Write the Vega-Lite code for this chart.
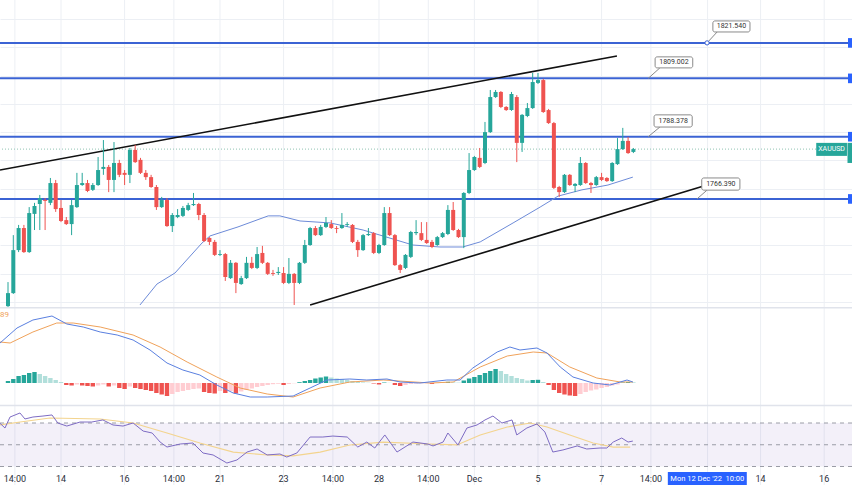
{
"$schema": "https://vega.github.io/schema/vega-lite/v6.json",
"width": 852, "height": 485,
"autosize": {"type": "none"},
"padding": 0,
"background": "white",
"config": {"view": {"stroke": null}, "font": "Roboto", "scale": {"continuousPadding": 0}, "axis": {"minExtent": 0, "gridColor": "#eceff4", "gridWidth": 1}},
"datasets": {
"candles": [
{"i":0,"o":1728.5,"c":1733.1,"h":1737.0,"l":1728.2},
{"i":1,"o":1733.1,"c":1748.3,"h":1753.6,"l":1732.8},
{"i":2,"o":1748.3,"c":1756.1,"h":1757.2,"l":1747.6},
{"i":3,"o":1756.1,"c":1747.6,"h":1757.2,"l":1747.3},
{"i":4,"o":1747.6,"c":1761.4,"h":1763.5,"l":1747.3},
{"i":5,"o":1761.1,"c":1763.9,"h":1765.0,"l":1755.4},
{"i":6,"o":1764.6,"c":1766.7,"h":1767.8,"l":1755.4},
{"i":7,"o":1766.0,"c":1765.7,"h":1766.7,"l":1755.4},
{"i":8,"o":1765.0,"c":1772.0,"h":1773.8,"l":1764.2},
{"i":9,"o":1772.0,"c":1762.8,"h":1773.1,"l":1761.8},
{"i":10,"o":1763.2,"c":1758.6,"h":1766.0,"l":1758.2},
{"i":11,"o":1758.9,"c":1757.5,"h":1760.0,"l":1757.2},
{"i":12,"o":1757.5,"c":1764.2,"h":1766.0,"l":1753.6},
{"i":13,"o":1763.5,"c":1771.3,"h":1775.6,"l":1763.2},
{"i":14,"o":1771.3,"c":1772.0,"h":1775.6,"l":1771.0},
{"i":15,"o":1772.0,"c":1769.2,"h":1773.1,"l":1768.8},
{"i":16,"o":1769.6,"c":1771.3,"h":1772.0,"l":1769.2},
{"i":17,"o":1771.3,"c":1776.6,"h":1781.2,"l":1771.0},
{"i":18,"o":1777.0,"c":1777.7,"h":1787.2,"l":1774.9},
{"i":19,"o":1777.7,"c":1773.1,"h":1778.4,"l":1768.8},
{"i":20,"o":1773.1,"c":1779.1,"h":1786.5,"l":1768.8},
{"i":21,"o":1779.1,"c":1774.9,"h":1780.2,"l":1774.1},
{"i":22,"o":1775.6,"c":1774.9,"h":1776.6,"l":1771.3},
{"i":23,"o":1774.9,"c":1783.7,"h":1784.4,"l":1772.0},
{"i":24,"o":1783.7,"c":1779.4,"h":1785.5,"l":1779.1},
{"i":25,"o":1780.2,"c":1775.6,"h":1780.9,"l":1775.2},
{"i":26,"o":1775.6,"c":1774.1,"h":1776.6,"l":1773.1},
{"i":27,"o":1774.1,"c":1770.6,"h":1774.9,"l":1770.3},
{"i":28,"o":1770.6,"c":1763.5,"h":1771.3,"l":1762.5},
{"i":29,"o":1763.5,"c":1766.0,"h":1767.1,"l":1763.2},
{"i":30,"o":1766.0,"c":1756.8,"h":1766.7,"l":1756.5},
{"i":31,"o":1756.8,"c":1760.7,"h":1761.4,"l":1754.7},
{"i":32,"o":1760.0,"c":1760.7,"h":1762.8,"l":1759.6},
{"i":33,"o":1760.4,"c":1763.2,"h":1763.9,"l":1760.0},
{"i":34,"o":1762.5,"c":1764.2,"h":1765.0,"l":1762.1},
{"i":35,"o":1764.2,"c":1764.6,"h":1768.5,"l":1763.9},
{"i":36,"o":1764.6,"c":1760.7,"h":1765.0,"l":1758.9},
{"i":37,"o":1760.7,"c":1751.5,"h":1761.4,"l":1751.2},
{"i":38,"o":1752.6,"c":1751.2,"h":1752.9,"l":1750.1},
{"i":39,"o":1751.2,"c":1746.6,"h":1751.9,"l":1746.2},
{"i":40,"o":1746.6,"c":1746.9,"h":1748.3,"l":1746.2},
{"i":41,"o":1746.9,"c":1738.8,"h":1747.3,"l":1737.4},
{"i":42,"o":1738.4,"c":1743.8,"h":1744.8,"l":1738.1},
{"i":43,"o":1743.8,"c":1736.7,"h":1744.1,"l":1733.1},
{"i":44,"o":1736.3,"c":1738.4,"h":1739.2,"l":1736.0},
{"i":45,"o":1738.4,"c":1743.8,"h":1745.9,"l":1738.1},
{"i":46,"o":1743.8,"c":1742.0,"h":1745.9,"l":1741.6},
{"i":47,"o":1742.0,"c":1746.9,"h":1749.4,"l":1741.6},
{"i":48,"o":1747.3,"c":1743.8,"h":1749.8,"l":1743.4},
{"i":49,"o":1743.8,"c":1739.9,"h":1744.1,"l":1739.5},
{"i":50,"o":1740.2,"c":1739.9,"h":1741.3,"l":1739.2},
{"i":51,"o":1740.2,"c":1740.6,"h":1742.3,"l":1739.5},
{"i":52,"o":1740.2,"c":1736.7,"h":1742.3,"l":1736.3},
{"i":53,"o":1736.7,"c":1739.9,"h":1745.5,"l":1736.3},
{"i":54,"o":1739.9,"c":1736.7,"h":1740.2,"l":1728.9},
{"i":55,"o":1736.7,"c":1743.8,"h":1744.1,"l":1736.3},
{"i":56,"o":1743.8,"c":1750.1,"h":1751.9,"l":1743.4},
{"i":57,"o":1750.1,"c":1756.1,"h":1756.5,"l":1749.8},
{"i":58,"o":1756.1,"c":1753.6,"h":1756.8,"l":1753.3},
{"i":59,"o":1753.6,"c":1756.5,"h":1757.2,"l":1753.3},
{"i":60,"o":1756.5,"c":1757.9,"h":1760.0,"l":1756.1},
{"i":61,"o":1757.5,"c":1756.1,"h":1758.9,"l":1755.8},
{"i":62,"o":1756.1,"c":1755.8,"h":1756.8,"l":1754.3},
{"i":63,"o":1756.1,"c":1757.2,"h":1761.4,"l":1755.8},
{"i":64,"o":1757.2,"c":1757.5,"h":1758.2,"l":1756.5},
{"i":65,"o":1757.2,"c":1751.2,"h":1757.5,"l":1750.8},
{"i":66,"o":1751.2,"c":1748.3,"h":1751.9,"l":1745.9},
{"i":67,"o":1748.3,"c":1753.6,"h":1754.0,"l":1748.0},
{"i":68,"o":1753.6,"c":1754.0,"h":1756.1,"l":1753.3},
{"i":69,"o":1754.3,"c":1747.3,"h":1754.7,"l":1746.9},
{"i":70,"o":1747.3,"c":1750.1,"h":1750.5,"l":1746.9},
{"i":71,"o":1750.1,"c":1761.4,"h":1763.5,"l":1749.8},
{"i":72,"o":1761.4,"c":1753.6,"h":1763.5,"l":1753.3},
{"i":73,"o":1753.6,"c":1743.0,"h":1754.0,"l":1742.7},
{"i":74,"o":1743.0,"c":1741.3,"h":1743.4,"l":1740.2},
{"i":75,"o":1742.0,"c":1746.6,"h":1746.9,"l":1741.6},
{"i":76,"o":1745.9,"c":1754.7,"h":1755.1,"l":1745.5},
{"i":77,"o":1754.3,"c":1754.7,"h":1758.9,"l":1753.6},
{"i":78,"o":1754.3,"c":1751.9,"h":1758.2,"l":1751.5},
{"i":79,"o":1751.9,"c":1750.8,"h":1758.2,"l":1750.5},
{"i":80,"o":1751.2,"c":1749.4,"h":1751.9,"l":1749.0},
{"i":81,"o":1750.1,"c":1752.9,"h":1753.3,"l":1749.8},
{"i":82,"o":1752.9,"c":1754.3,"h":1754.7,"l":1752.6},
{"i":83,"o":1754.0,"c":1762.5,"h":1764.2,"l":1753.6},
{"i":84,"o":1762.5,"c":1755.4,"h":1765.3,"l":1755.1},
{"i":85,"o":1755.4,"c":1752.9,"h":1755.8,"l":1752.6},
{"i":86,"o":1752.9,"c":1768.5,"h":1768.8,"l":1749.0},
{"i":87,"o":1768.5,"c":1776.6,"h":1782.6,"l":1768.1},
{"i":88,"o":1776.6,"c":1781.2,"h":1781.6,"l":1776.3},
{"i":89,"o":1780.9,"c":1777.7,"h":1784.4,"l":1777.3},
{"i":90,"o":1779.1,"c":1790.0,"h":1793.6,"l":1778.7},
{"i":91,"o":1790.0,"c":1802.4,"h":1804.9,"l":1789.7},
{"i":92,"o":1802.4,"c":1804.2,"h":1804.9,"l":1802.1},
{"i":93,"o":1804.2,"c":1798.9,"h":1804.5,"l":1798.5},
{"i":94,"o":1798.9,"c":1797.8,"h":1799.2,"l":1797.5},
{"i":95,"o":1797.8,"c":1803.5,"h":1804.2,"l":1797.5},
{"i":96,"o":1802.4,"c":1786.2,"h":1803.1,"l":1779.4},
{"i":97,"o":1786.2,"c":1796.1,"h":1796.4,"l":1783.0},
{"i":98,"o":1795.7,"c":1798.5,"h":1800.3,"l":1795.3},
{"i":99,"o":1798.5,"c":1807.7,"h":1810.9,"l":1798.2},
{"i":100,"o":1807.4,"c":1808.4,"h":1810.9,"l":1807.0},
{"i":101,"o":1808.4,"c":1797.1,"h":1808.8,"l":1796.8},
{"i":102,"o":1797.8,"c":1793.2,"h":1798.2,"l":1792.9},
{"i":103,"o":1793.2,"c":1770.3,"h":1793.6,"l":1769.9},
{"i":104,"o":1770.6,"c":1768.8,"h":1771.0,"l":1767.1},
{"i":105,"o":1768.8,"c":1774.9,"h":1775.2,"l":1768.5},
{"i":106,"o":1774.9,"c":1771.3,"h":1775.2,"l":1771.0},
{"i":107,"o":1771.0,"c":1771.7,"h":1772.0,"l":1768.8},
{"i":108,"o":1771.3,"c":1779.1,"h":1781.2,"l":1771.0},
{"i":109,"o":1779.1,"c":1772.0,"h":1779.4,"l":1771.7},
{"i":110,"o":1772.0,"c":1771.3,"h":1772.4,"l":1768.5},
{"i":111,"o":1771.3,"c":1774.1,"h":1774.5,"l":1771.0},
{"i":112,"o":1774.1,"c":1773.1,"h":1775.6,"l":1772.7},
{"i":113,"o":1773.8,"c":1772.7,"h":1774.1,"l":1772.4},
{"i":114,"o":1772.7,"c":1779.1,"h":1779.4,"l":1772.4},
{"i":115,"o":1778.7,"c":1784.0,"h":1787.9,"l":1778.4},
{"i":116,"o":1784.0,"c":1786.9,"h":1791.5,"l":1783.7},
{"i":117,"o":1786.9,"c":1782.6,"h":1788.3,"l":1782.3},
{"i":118,"o":1783.0,"c":1784.0,"h":1784.4,"l":1782.6}
],
"ma": [
{"i":24.9,"p":1728.9},{"i":28.1,"p":1736.3},{"i":31.5,"p":1740.2},{"i":36.6,"p":1750.8},{"i":38.1,"p":1753.3},{"i":43.4,"p":1756.5},{"i":49.1,"p":1760.4},{"i":51.3,"p":1760.4},{"i":55.1,"p":1758.6},{"i":60.8,"p":1757.9},{"i":67.0,"p":1755.4},{"i":76.4,"p":1750.1},{"i":81.5,"p":1749.4},{"i":85.8,"p":1749.4},{"i":89.1,"p":1751.2},{"i":95.3,"p":1757.9},{"i":100.4,"p":1763.5},{"i":103.8,"p":1767.4},{"i":108.3,"p":1769.6},{"i":113.2,"p":1771.3},{"i":117.9,"p":1774.1}
],
"levels": [{"p":1821.54,"label":"1821.540","bx":133.0,"bx2":140.0,"by":1825.4,"by2":1829.3,"tx":136.5,"ty":1827.35,"px":133.8,"py":1825.4,"qx":131.9},
{"p":1809.002,"label":"1809.002","bx":122.1,"bx2":129.2,"by":1812.7,"by2":1816.6,"tx":125.65,"ty":1814.65,"px":123.0,"py":1812.7,"qx":120.8},
{"p":1788.378,"label":"1788.378","bx":121.9,"bx2":129.1,"by":1791.8,"by2":1796.1,"tx":125.5,"ty":1793.95,"px":123.0,"py":1791.8,"qx":120.8},
{"p":1766.39,"label":"1766.390","bx":130.9,"bx2":138.1,"by":1769.5,"by2":1773.8,"tx":134.5,"ty":1771.65,"px":131.9,"py":1769.5,"qx":130.0}],
"trend": [{"i":-1.51,"p":1776.6,"i2":114.9,"p2":1816.9},{"i":57.0,"p":1728.9,"i2":131.9,"p2":1771.3}],
"ticks": [
{"i":1.3,"t":"14:00"},{"i":10,"t":"14"},{"i":22,"t":"16"},{"i":31.3,"t":"14:00"},{"i":40,"t":"21"},{"i":52,"t":"23"},{"i":61.3,"t":"14:00"},{"i":70,"t":"28"},{"i":79.3,"t":"14:00"},{"i":88,"t":"Dec"},{"i":100,"t":"5"},{"i":112,"t":"7"},{"i":121.3,"t":"14:00"},{"i":132,"t":""},{"i":142,"t":"14"},{"i":154,"t":"16"}
],
"hist": [
{"i":0,"h":0.4},{"i":1,"h":0.8},{"i":2,"h":1.4},{"i":3,"h":1.6},{"i":4,"h":2.0},{"i":5,"h":2.2},{"i":6,"h":1.8},{"i":7,"h":1.4},{"i":8,"h":1.0},{"i":9,"h":0.6},
{"i":10,"h":0.2},{"i":11,"h":-0.4},{"i":12,"h":-0.5},{"i":13,"h":-0.3},{"i":14,"h":-0.5},{"i":15,"h":-0.6},{"i":16,"h":-0.7},{"i":17,"h":-0.5},{"i":18,"h":-0.3},{"i":19,"h":-0.7},
{"i":20,"h":-0.5},{"i":21,"h":-1.0},{"i":22,"h":-1.2},{"i":23,"h":-0.7},{"i":24,"h":-1.0},{"i":25,"h":-1.2},{"i":26,"h":-1.4},{"i":27,"h":-1.6},{"i":28,"h":-2.0},{"i":29,"h":-2.3},
{"i":30,"h":-2.6},{"i":31,"h":-2.2},{"i":32,"h":-1.8},{"i":33,"h":-1.6},{"i":34,"h":-1.4},{"i":35,"h":-1.2},{"i":36,"h":-1.1},{"i":37,"h":-1.8},{"i":38,"h":-2.0},{"i":39,"h":-2.1},
{"i":40,"h":-1.6},{"i":41,"h":-2.0},{"i":42,"h":-1.6},{"i":43,"h":-2.1},{"i":44,"h":-1.7},{"i":45,"h":-1.4},{"i":46,"h":-1.1},{"i":47,"h":-0.8},{"i":48,"h":-0.6},{"i":49,"h":-0.4},
{"i":50,"h":-0.24},{"i":51,"h":-0.16},{"i":52,"h":-0.4},{"i":53,"h":-0.2},{"i":54,"h":-0.06},{"i":55,"h":0.16},{"i":56,"h":0.4},{"i":57,"h":0.6},{"i":58,"h":0.9},{"i":59,"h":1.1},
{"i":60,"h":1.3},{"i":61,"h":1.1},{"i":62,"h":0.9},{"i":63,"h":0.8},{"i":64,"h":0.6},{"i":65,"h":0.4},{"i":66,"h":0.2},{"i":67,"h":0.12},{"i":68,"h":0.06},{"i":69,"h":-0.1},
{"i":70,"h":-0.3},{"i":71,"h":0.1},{"i":72,"h":0.04},{"i":73,"h":-0.4},{"i":74,"h":-0.6},{"i":75,"h":-0.4},{"i":76,"h":-0.2},{"i":77,"h":-0.12},{"i":78,"h":-0.08},{"i":79,"h":-0.06},
{"i":80,"h":-0.2},{"i":81,"h":-0.04},{"i":82,"h":0.1},{"i":83,"h":0.24},{"i":84,"h":0.14},{"i":85,"h":0.08},{"i":86,"h":0.5},{"i":87,"h":0.9},{"i":88,"h":1.2},{"i":89,"h":1.6},
{"i":90,"h":2.0},{"i":91,"h":2.4},{"i":92,"h":2.8},{"i":93,"h":2.4},{"i":94,"h":1.8},{"i":95,"h":1.4},{"i":96,"h":1.0},{"i":97,"h":0.8},{"i":98,"h":0.5},{"i":99,"h":0.6},
{"i":100,"h":0.64},{"i":101,"h":0.2},{"i":102,"h":-0.4},{"i":103,"h":-1.4},{"i":104,"h":-2.0},{"i":105,"h":-2.3},{"i":106,"h":-2.5},{"i":107,"h":-2.6},{"i":108,"h":-2.2},{"i":109,"h":-1.8},
{"i":110,"h":-1.5},{"i":111,"h":-1.3},{"i":112,"h":-1.0},{"i":113,"h":-0.8},{"i":114,"h":-0.5},{"i":115,"h":-0.3},{"i":116,"h":0.1},{"i":117,"h":0.2},{"i":118,"h":0.14}
],
"macd": [
{"i":-1.51,"v":8.0},{"i":1.7,"v":11.0},{"i":4.7,"v":12.6},{"i":8.3,"v":13.4},{"i":11.1,"v":11.8},{"i":14.2,"v":11.2},{"i":17.4,"v":10.2},{"i":20.6,"v":9.6},{"i":23.6,"v":8.6},{"i":26.8,"v":6.6},{"i":30.0,"v":4.0},{"i":33.0,"v":2.6},{"i":36.2,"v":1.6},{"i":39.4,"v":-0.4},{"i":42.5,"v":-2.0},{"i":45.7,"v":-2.8},{"i":48.9,"v":-2.8},{"i":53.8,"v":-2.6},{"i":57.0,"v":-1.0},{"i":60.2,"v":0.6},{"i":64.5,"v":0.8},{"i":67.7,"v":0.6},{"i":71.5,"v":0.8},{"i":74.0,"v":0.2},{"i":77.7,"v":0.0},{"i":82.8,"v":0.6},{"i":85.3,"v":0.6},{"i":87.7,"v":3.0},{"i":92.3,"v":6.2},{"i":94.7,"v":7.2},{"i":96.6,"v":6.6},{"i":99.8,"v":7.0},{"i":101.7,"v":6.0},{"i":104.2,"v":3.2},{"i":106.6,"v":1.2},{"i":110.4,"v":0.0},{"i":113.6,"v":-0.4},{"i":116.8,"v":0.6},{"i":117.9,"v":0.2}
],
"signal": [
{"i":-1.51,"v":8.2},{"i":0.4,"v":8.0},{"i":4.7,"v":10.2},{"i":9.2,"v":12.0},{"i":12.3,"v":12.0},{"i":17.4,"v":11.2},{"i":23.6,"v":9.6},{"i":28.7,"v":7.2},{"i":33.8,"v":4.2},{"i":39.4,"v":1.2},{"i":43.8,"v":-1.0},{"i":48.9,"v":-2.2},{"i":53.8,"v":-2.8},{"i":58.9,"v":-1.0},{"i":64.5,"v":0.2},{"i":70.8,"v":0.6},{"i":79.6,"v":0.0},{"i":84.0,"v":0.2},{"i":89.1,"v":3.2},{"i":94.2,"v":5.4},{"i":99.1,"v":6.2},{"i":101.7,"v":6.0},{"i":106.0,"v":3.2},{"i":111.1,"v":1.0},{"i":115.5,"v":0.2},{"i":117.9,"v":0.2}
],
"rsi": [
{"i":-1.51,"v":69.7},{"i":-0.57,"v":65.4},{"i":0.38,"v":75.5},{"i":2.26,"v":79.2},{"i":3.2,"v":73.7},{"i":4.7,"v":75.5},{"i":6.6,"v":76.4},{"i":8.3,"v":77.4},{"i":9.4,"v":70.0},{"i":11.1,"v":67.2},{"i":13.6,"v":70.9},{"i":15.8,"v":70.9},{"i":17.9,"v":72.8},{"i":19.8,"v":68.2},{"i":21.7,"v":67.2},{"i":23.6,"v":70.0},{"i":25.5,"v":62.6},{"i":27.2,"v":60.8},{"i":28.7,"v":52.5},{"i":30.0,"v":47.9},{"i":32.5,"v":50.7},{"i":34.9,"v":51.6},{"i":36.8,"v":42.4},{"i":38.7,"v":40.6},{"i":41.3,"v":33.2},{"i":43.2,"v":36.0},{"i":45.1,"v":43.3},{"i":47.0,"v":46.1},{"i":48.9,"v":40.6},{"i":51.3,"v":41.5},{"i":52.6,"v":38.7},{"i":54.5,"v":42.4},{"i":57.0,"v":57.1},{"i":59.4,"v":57.1},{"i":61.3,"v":58.0},{"i":64.0,"v":57.1},{"i":66.0,"v":47.9},{"i":67.7,"v":52.5},{"i":69.2,"v":47.0},{"i":71.1,"v":59.0},{"i":73.4,"v":43.3},{"i":76.4,"v":52.5},{"i":79.2,"v":50.7},{"i":80.2,"v":48.9},{"i":82.1,"v":52.5},{"i":83.0,"v":60.8},{"i":84.9,"v":49.8},{"i":86.6,"v":65.4},{"i":88.5,"v":68.2},{"i":90.0,"v":72.8},{"i":91.5,"v":76.4},{"i":93.2,"v":70.0},{"i":95.1,"v":72.8},{"i":96.0,"v":59.0},{"i":97.9,"v":65.4},{"i":99.8,"v":69.1},{"i":101.3,"v":61.7},{"i":102.8,"v":43.3},{"i":104.7,"v":45.2},{"i":107.4,"v":48.9},{"i":109.2,"v":46.1},{"i":111.7,"v":47.0},{"i":113.0,"v":47.0},{"i":114.2,"v":52.5},{"i":115.8,"v":56.2},{"i":117.0,"v":52.5},{"i":117.9,"v":53.4}
],
"rsima": [
{"i":-1.51,"v":68.2},{"i":2.3,"v":70.9},{"i":7.9,"v":74.6},{"i":17.4,"v":73.7},{"i":23.6,"v":70.0},{"i":30.0,"v":60.8},{"i":36.2,"v":51.6},{"i":42.5,"v":43.3},{"i":48.9,"v":40.6},{"i":53.8,"v":39.7},{"i":58.9,"v":43.3},{"i":64.5,"v":49.8},{"i":70.8,"v":52.5},{"i":79.6,"v":50.7},{"i":84.7,"v":49.8},{"i":89.1,"v":59.0},{"i":94.2,"v":66.3},{"i":98.5,"v":70.0},{"i":101.7,"v":66.3},{"i":106.0,"v":59.0},{"i":110.4,"v":51.6},{"i":114.2,"v":47.9},{"i":117.4,"v":47.9}
]
},
"resolve": {"scale": {"y": "independent"}},
"layer": [
{
"layer": [
{"data": {"name": "ticks"}, "mark": {"type": "rule", "color": "#eceff4", "strokeWidth": 1},
 "encoding": {"x": {"field": "i", "type": "quantitative", "scale": {"domain": [-1.51, 159.25], "nice": false, "zero": false, "padding": 0}, "axis": null}}},
{"data": {"values": [{"p": 1784.0}]}, "mark": {"type": "rule", "color": "#8fc3b3", "strokeDash": [1, 2], "strokeWidth": 1},
 "encoding": {"y": {"field": "p", "type": "quantitative", "scale": {"domain": [1665.28, 1836.7], "nice": false, "zero": false}, "axis": {"values": [1730, 1740, 1750, 1760, 1770, 1780, 1790, 1800, 1810, 1820, 1830], "labels": false, "ticks": false, "domain": false, "grid": true, "title": null}}}},
{"data": {"values": [{"p": 1727.9}]}, "mark": {"type": "rule", "color": "#e0e3eb", "strokeWidth": 1.5},
 "encoding": {"y": {"field": "p", "type": "quantitative", "scale": {"domain": [1665.28, 1836.7], "nice": false, "zero": false}}}},
{"data": {"name": "levels"}, "mark": {"type": "rule", "color": "#3b63d4", "strokeWidth": 2},
 "encoding": {"y": {"field": "p", "type": "quantitative", "scale": {"domain": [1665.28, 1836.7], "nice": false, "zero": false}}}},
{"data": {"name": "trend"}, "mark": {"type": "rule", "color": "#111111", "strokeWidth": 1.6},
 "encoding": {"x": {"field": "i", "type": "quantitative", "scale": {"domain": [-1.51, 159.25], "nice": false, "zero": false, "padding": 0}, "axis": null}, "x2": {"field": "i2"},
  "y": {"field": "p", "type": "quantitative", "scale": {"domain": [1665.28, 1836.7], "nice": false, "zero": false}}, "y2": {"field": "p2"}}},
{"data": {"name": "ma"}, "mark": {"type": "line", "color": "#6d8bd8", "strokeWidth": 1},
 "encoding": {"x": {"field": "i", "type": "quantitative", "scale": {"domain": [-1.51, 159.25], "nice": false, "zero": false, "padding": 0}, "axis": null},
  "y": {"field": "p", "type": "quantitative", "scale": {"domain": [1665.28, 1836.7], "nice": false, "zero": false}}}},
{"data": {"name": "candles"}, "mark": {"type": "rule", "strokeWidth": 1},
 "encoding": {"x": {"field": "i", "type": "quantitative", "scale": {"domain": [-1.51, 159.25], "nice": false, "zero": false, "padding": 0}, "axis": null},
  "y": {"field": "l", "type": "quantitative", "scale": {"domain": [1665.28, 1836.7], "nice": false, "zero": false}}, "y2": {"field": "h"},
  "color": {"condition": {"test": "datum.c >= datum.o", "value": "#26a69a"}, "value": "#ef5350"}}},
{"data": {"name": "candles"}, "mark": {"type": "bar", "size": 4},
 "encoding": {"x": {"field": "i", "type": "quantitative", "scale": {"domain": [-1.51, 159.25], "nice": false, "zero": false, "padding": 0}, "axis": null},
  "y": {"field": "o", "type": "quantitative", "scale": {"domain": [1665.28, 1836.7], "nice": false, "zero": false}}, "y2": {"field": "c"},
  "color": {"condition": {"test": "datum.c >= datum.o", "value": "#26a69a"}, "value": "#ef5350"}}},
{"data": {"name": "levels"}, "mark": {"type": "rule", "color": "#8a8a8a", "strokeWidth": 1},
 "encoding": {"x": {"field": "px", "type": "quantitative", "scale": {"domain": [-1.51, 159.25], "nice": false, "zero": false, "padding": 0}, "axis": null}, "x2": {"field": "qx"},
  "y": {"field": "py", "type": "quantitative", "scale": {"domain": [1665.28, 1836.7], "nice": false, "zero": false}}, "y2": {"field": "p"}}},
{"data": {"name": "levels"}, "transform": [{"filter": "datum.p > 1820"}], "mark": {"type": "point", "filled": true, "fill": "white", "stroke": "#3b63d4", "strokeWidth": 1, "size": 18, "opacity": 1},
 "encoding": {"x": {"field": "qx", "type": "quantitative", "scale": {"domain": [-1.51, 159.25], "nice": false, "zero": false, "padding": 0}, "axis": null},
  "y": {"field": "p", "type": "quantitative", "scale": {"domain": [1665.28, 1836.7], "nice": false, "zero": false}}}},
{"data": {"name": "levels"}, "mark": {"type": "rect", "fill": "white", "stroke": "#8a8a8a", "strokeWidth": 1, "cornerRadius": 2},
 "encoding": {"x": {"field": "bx", "type": "quantitative", "scale": {"domain": [-1.51, 159.25], "nice": false, "zero": false, "padding": 0}, "axis": null}, "x2": {"field": "bx2"},
  "y": {"field": "by", "type": "quantitative", "scale": {"domain": [1665.28, 1836.7], "nice": false, "zero": false}}, "y2": {"field": "by2"}}},
{"data": {"name": "levels"}, "mark": {"type": "text", "fontSize": 7, "color": "#333333", "align": "center", "baseline": "middle"},
 "encoding": {"x": {"field": "tx", "type": "quantitative", "scale": {"domain": [-1.51, 159.25], "nice": false, "zero": false, "padding": 0}, "axis": null},
  "y": {"field": "ty", "type": "quantitative", "scale": {"domain": [1665.28, 1836.7], "nice": false, "zero": false}}, "text": {"field": "label"}}},
{"data": {"name": "levels"}, "transform": [{"calculate": "datum.p - 1.7", "as": "t1"}, {"calculate": "datum.p + 1.7", "as": "t2"}], "mark": {"type": "rect", "fill": "#2962ff"},
 "encoding": {"x": {"datum": 158.5, "type": "quantitative", "scale": {"domain": [-1.51, 159.25], "nice": false, "zero": false, "padding": 0}, "axis": null}, "x2": {"datum": 159.25},
  "y": {"field": "t1", "type": "quantitative", "scale": {"domain": [1665.28, 1836.7], "nice": false, "zero": false}}, "y2": {"field": "t2"}}},
{"data": {"values": [{"i": 152.5, "i2": 158.3, "p": 1786.2, "p2": 1781.6}, {"i": 158.4, "i2": 159.25, "p": 1786.2, "p2": 1779.1}]}, "mark": {"type": "rect", "fill": "#26a69a"},
 "encoding": {"x": {"field": "i", "type": "quantitative", "scale": {"domain": [-1.51, 159.25], "nice": false, "zero": false, "padding": 0}, "axis": null}, "x2": {"field": "i2"},
  "y": {"field": "p", "type": "quantitative", "scale": {"domain": [1665.28, 1836.7], "nice": false, "zero": false}}, "y2": {"field": "p2"}}},
{"data": {"values": [{"t": "XAUUSD", "ti": 155.4, "tp": 1783.9}]}, "mark": {"type": "text", "fontSize": 7, "color": "white", "align": "center", "baseline": "middle"},
 "encoding": {"x": {"field": "ti", "type": "quantitative", "scale": {"domain": [-1.51, 159.25], "nice": false, "zero": false, "padding": 0}, "axis": null},
  "y": {"field": "tp", "type": "quantitative", "scale": {"domain": [1665.28, 1836.7], "nice": false, "zero": false}}, "text": {"field": "t"}}}
]
},
{
"layer": [
{"data": {"values": [{"v": -4.5}]}, "mark": {"type": "rule", "color": "#e0e3eb", "strokeWidth": 1.5},
 "encoding": {"y": {"field": "v", "type": "quantitative", "scale": {"domain": [-20.4, 76.6], "nice": false, "zero": false}, "axis": null}}},
{"data": {"name": "hist"}, "transform": [{"window": [{"op": "lag", "field": "h", "as": "prev"}], "sort": [{"field": "i", "order": "ascending"}]}],
 "mark": {"type": "bar", "size": 4.4},
 "encoding": {"x": {"field": "i", "type": "quantitative", "scale": {"domain": [-1.51, 159.25], "nice": false, "zero": false, "padding": 0}, "axis": null},
  "y": {"field": "h", "type": "quantitative", "scale": {"domain": [-20.4, 76.6], "nice": false, "zero": false}}, "y2": {"datum": 0},
  "color": {"condition": [{"test": "datum.h >= 0 && (datum.prev == null || datum.h >= datum.prev)", "value": "#26a69a"}, {"test": "datum.h >= 0", "value": "#b2dfdb"}, {"test": "datum.h < datum.prev", "value": "#ef5350"}], "value": "#ffcdd2"}}},
{"data": {"name": "signal"}, "mark": {"type": "line", "color": "#f0a25a", "strokeWidth": 1},
 "encoding": {"x": {"field": "i", "type": "quantitative", "scale": {"domain": [-1.51, 159.25], "nice": false, "zero": false, "padding": 0}, "axis": null},
  "y": {"field": "v", "type": "quantitative", "scale": {"domain": [-20.4, 76.6], "nice": false, "zero": false}}}},
{"data": {"name": "macd"}, "mark": {"type": "line", "color": "#5a80e0", "strokeWidth": 1},
 "encoding": {"x": {"field": "i", "type": "quantitative", "scale": {"domain": [-1.51, 159.25], "nice": false, "zero": false, "padding": 0}, "axis": null},
  "y": {"field": "v", "type": "quantitative", "scale": {"domain": [-20.4, 76.6], "nice": false, "zero": false}}}},
{"data": {"values": [{"t": "89", "i": -1.51, "v": 13.6}]}, "mark": {"type": "text", "fontSize": 8, "color": "#f0a25a", "align": "left", "baseline": "middle"},
 "encoding": {"x": {"field": "i", "type": "quantitative", "scale": {"domain": [-1.51, 159.25], "nice": false, "zero": false, "padding": 0}, "axis": null},
  "y": {"field": "v", "type": "quantitative", "scale": {"domain": [-20.4, 76.6], "nice": false, "zero": false}}, "text": {"field": "t"}}}
]
},
{
"layer": [
{"data": {"values": [{"a": 30, "b": 70}]}, "mark": {"type": "rect", "fill": "#7e57c2", "opacity": 0.09},
 "encoding": {"x": {"datum": -1.51, "type": "quantitative", "scale": {"domain": [-1.51, 159.25], "nice": false, "zero": false, "padding": 0}, "axis": null}, "x2": {"datum": 159.25},
  "y": {"field": "a", "type": "quantitative", "scale": {"domain": [12.99, 458.97], "nice": false, "zero": false}, "axis": null}, "y2": {"field": "b"}}},
{"data": {"values": [{"v": 70}, {"v": 50}, {"v": 30}]}, "mark": {"type": "rule", "color": "#9a9ca6", "strokeDash": [4, 4], "strokeWidth": 1},
 "encoding": {"y": {"field": "v", "type": "quantitative", "scale": {"domain": [12.99, 458.97], "nice": false, "zero": false}}}},
{"data": {"name": "rsima"}, "mark": {"type": "line", "color": "#f3d48e", "strokeWidth": 1.2},
 "encoding": {"x": {"field": "i", "type": "quantitative", "scale": {"domain": [-1.51, 159.25], "nice": false, "zero": false, "padding": 0}, "axis": null},
  "y": {"field": "v", "type": "quantitative", "scale": {"domain": [12.99, 458.97], "nice": false, "zero": false}}}},
{"data": {"name": "rsi"}, "mark": {"type": "line", "color": "#7e6cc4", "strokeWidth": 1},
 "encoding": {"x": {"field": "i", "type": "quantitative", "scale": {"domain": [-1.51, 159.25], "nice": false, "zero": false, "padding": 0}, "axis": null},
  "y": {"field": "v", "type": "quantitative", "scale": {"domain": [12.99, 458.97], "nice": false, "zero": false}}}},
{"data": {"name": "ticks"}, "transform": [{"calculate": "18.5", "as": "ly"}], "mark": {"type": "text", "fontSize": 9, "color": "#2a2e39", "align": "center", "baseline": "middle"},
 "encoding": {"x": {"field": "i", "type": "quantitative", "scale": {"domain": [-1.51, 159.25], "nice": false, "zero": false, "padding": 0}, "axis": null},
  "y": {"field": "ly", "type": "quantitative", "scale": {"domain": [12.99, 458.97], "nice": false, "zero": false}}, "text": {"field": "t"}}},
{"data": {"values": [{"i": 124.5, "i2": 139.4, "v": 24.9, "v2": 12.99}]}, "mark": {"type": "rect", "fill": "#2962ff"},
 "encoding": {"x": {"field": "i", "type": "quantitative", "scale": {"domain": [-1.51, 159.25], "nice": false, "zero": false, "padding": 0}, "axis": null}, "x2": {"field": "i2"},
  "y": {"field": "v", "type": "quantitative", "scale": {"domain": [12.99, 458.97], "nice": false, "zero": false}}, "y2": {"field": "v2"}}},
{"data": {"values": [{"t": "Mon 12 Dec '22\u00a0\u00a010:00", "i": 131.95, "v": 18.5}]}, "mark": {"type": "text", "fontSize": 7.5, "color": "white", "align": "center", "baseline": "middle"},
 "encoding": {"x": {"field": "i", "type": "quantitative", "scale": {"domain": [-1.51, 159.25], "nice": false, "zero": false, "padding": 0}, "axis": null},
  "y": {"field": "v", "type": "quantitative", "scale": {"domain": [12.99, 458.97], "nice": false, "zero": false}}, "text": {"field": "t"}}}
]
}
]
}
